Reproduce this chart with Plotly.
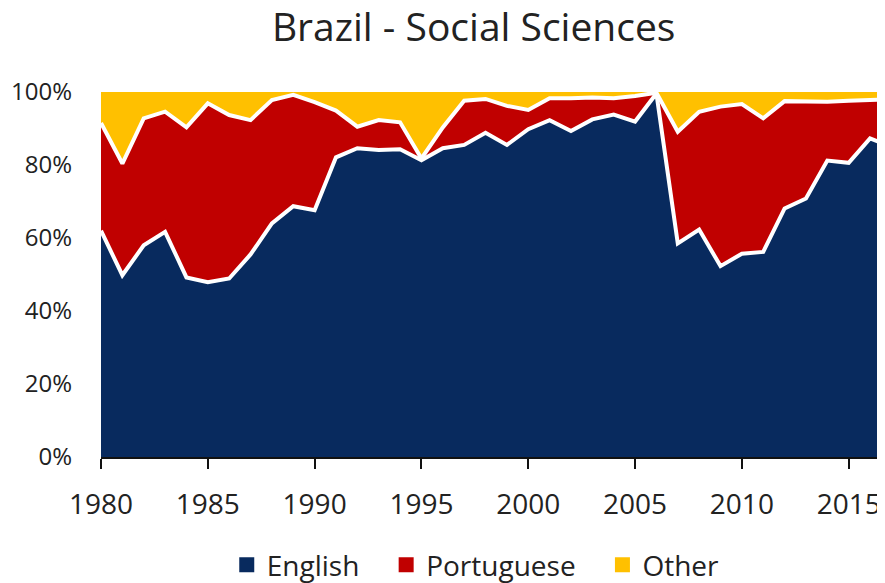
import plotly.graph_objects as go

years = list(range(1980, 2018))

english = [62.0, 49.8, 58.0, 61.7, 49.2, 47.9, 48.9, 55.5, 64.0, 68.7,
           67.6, 82.1, 84.6, 84.1, 84.3, 81.3, 84.6, 85.5, 88.8, 85.5,
           89.8, 92.3, 89.3, 92.5, 93.8, 91.9, 99.6, 58.5, 62.3, 52.3,
           55.7, 56.2, 68.1, 70.8, 81.2, 80.6, 87.3, 85.0]

portuguese = [29.5, 30.6, 34.8, 32.9, 41.1, 49.0, 44.8, 36.8, 33.8, 30.5,
              29.6, 12.8, 5.9, 8.2, 7.4, 0.5, 5.7, 12.1, 9.3, 10.7,
              5.3, 6.0, 9.0, 6.0, 4.5, 7.0, 0.2, 30.6, 32.3, 43.7,
              41.0, 36.6, 29.4, 26.7, 16.1, 17.0, 10.6, 13.0]

other = [8.5, 19.6, 7.2, 5.4, 9.7, 3.1, 6.3, 7.7, 2.2, 0.8,
         2.8, 5.1, 9.5, 7.7, 8.3, 18.2, 9.7, 2.4, 1.9, 3.8,
         4.9, 1.7, 1.7, 1.5, 1.7, 1.1, 0.2, 10.9, 5.4, 4.0,
         3.3, 7.2, 2.5, 2.5, 2.7, 2.4, 2.1, 2.0]

series_names = ["English", "Portuguese", "Other"]
series_values = [english, portuguese, other]
colors = ["#082A5E", "#C00000", "#FFC000"]

x_ticks = [1980, 1985, 1990, 1995, 2000, 2005, 2010, 2015]
y_ticks = [0, 20, 40, 60, 80, 100]
y_tick_labels = ["0%", "20%", "40%", "60%", "80%", "100%"]

FONT = "Open Sans"
TEXT = "#222222"
PAD = "\u00a0\u00a0\u00a0"  # extra spacing between legend entries

fig = go.Figure()

for name, vals, col in zip(series_names, series_values, colors):
    fig.add_trace(go.Scatter(
        x=years, y=vals, name=name, stackgroup="one", mode="lines",
        line=dict(color="white", width=0 if name == "Other" else 4),
        fillcolor=col, showlegend=False, hoverinfo="x+y+name",
    ))

for i, (name, col) in enumerate(zip(series_names, colors)):
    label = name + (PAD if i < len(series_names) - 1 else "")
    fig.add_trace(go.Scatter(
        x=[None], y=[None], name=label, mode="markers",
        marker=dict(symbol="square", size=15, color=col),
        showlegend=True,
    ))

# page body adds an 8px offset, so the figure is 8px smaller
fig.update_layout(
    width=877, height=575,
    margin=dict(l=93, r=0, t=84, b=126, autoexpand=False),
    paper_bgcolor="white", plot_bgcolor="white",
    font=dict(family=FONT, color=TEXT),
    title=dict(text="Brazil - Social Sciences", x=0.531, xref="container",
               xanchor="center", y=0.967, yref="container", yanchor="middle",
               font=dict(size=39, family=FONT, color=TEXT)),
    legend=dict(orientation="h", x=0.478, xanchor="center", xref="paper",
                y=-0.296, yanchor="middle", font=dict(size=28, color=TEXT),
                itemsizing="trace", traceorder="normal"),
    xaxis=dict(range=[1980, 2016.7], tickvals=x_ticks, showgrid=False,
               zeroline=False, showline=True, linecolor="#111111", linewidth=2,
               ticks="outside", ticklen=10, tickwidth=2, tickcolor="#111111",
               tickfont=dict(size=28, color=TEXT), ticklabelstandoff=11,
               automargin=False),
    yaxis=dict(range=[0, 100], tickvals=y_ticks, ticktext=y_tick_labels,
               showgrid=False, zeroline=False, showline=False, ticks="",
               tickfont=dict(size=24, color=TEXT), ticklabelstandoff=28,
               automargin=False),
)

fig.write_html("out.html")
